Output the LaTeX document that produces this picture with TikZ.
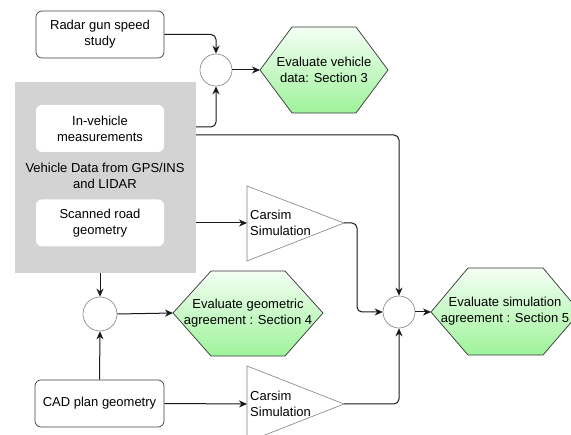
\documentclass[tikz,border=0pt]{standalone}
\usepackage{fontspec}
\setmainfont{Liberation Sans}
\usetikzlibrary{arrows.meta,shapes.geometric,calc}
\definecolor{hexbot}{HTML}{9EF39A}
\definecolor{hextop}{HTML}{F4FFF4}
\definecolor{graybg}{HTML}{D3D3D3}
\begin{document}
\begin{tikzpicture}[x=1pt,y=-1pt, font=\fontsize{13}{16}\selectfont,
 box/.style={draw=black!75, line width=0.7pt, rounded corners=6pt, fill=white, minimum width=128pt, minimum height=47pt, align=center, inner sep=0pt},
 inbox/.style={fill=white, rounded corners=6pt, minimum width=128pt, minimum height=47pt, align=center, inner sep=0pt},
 junc/.style={circle, draw=black!50, line width=0.6pt, fill=white, minimum size=32pt, inner sep=0pt},
 hexa/.style={draw=black!80, line width=0.7pt, top color=hextop, bottom color=hexbot},
 tri/.style={draw=black!50, line width=0.6pt, fill=white},
 conn/.style={line width=1pt, rounded corners=5pt, draw=black!90},
 arr/.style={conn, -{Stealth[length=8pt,width=7pt,inset=2.5pt]}},
 lbl/.style={align=center, inner sep=0pt}]
\useasboundingbox (0,0) rectangle (571,435);

% top
\node[box] (radar) at (100,34.5) {Radar gun speed\\study};
\node[junc] (c1) at (216,70) {};
\path[hexa] (260,70) coordinate (h1w) -- (292,27) -- (356,27) -- (388,70) -- (356,113) -- (292,113) -- cycle;
\node[lbl] (h1) at (324,70) {Evaluate vehicle\\data: Section 3};

% gray group
\node[fill=graybg, minimum width=181pt, minimum height=191pt, inner sep=0pt] (gray) at (105.5,177.5) {};
\node[inbox] (inveh) at (100,128.5) {In-vehicle\\measurements};
\node[lbl] (vdl) at (105,176) {Vehicle Data from GPS/INS\\and LIDAR};
\node[inbox] (scan) at (100,223) {Scanned road\\geometry};
\coordinate (gA) at (196,127);
\coordinate (gB) at (196,135);
\coordinate (gC) at (196,223);
\coordinate (gD) at (100,273);

% carsim 1
\path[tri] (247,186) -- (344,223) coordinate (t1tip) -- (247,261) -- cycle;
\coordinate (t1w) at (247,223);
\node[lbl, anchor=west, align=left] (t1) at (250,223) {Carsim\\Simulation};
\coordinate (k1) at (357,223);

% geometric
\node[junc, minimum size=34pt] (c2) at (100,314) {};
\path[hexa] (173,313) coordinate (h2w) -- (211,271) -- (285,271) -- (323,313) -- (285,356) -- (211,356) -- cycle;
\node[lbl] (h2) at (248,313) {Evaluate geometric\\agreement : Section 4};

% CAD
\node[box, minimum width=129pt] (cad) at (99.5,403.5) {CAD plan geometry};
\path[tri] (247,366) -- (344,404) coordinate (t2tip) -- (247,442) -- cycle;
\coordinate (t2w) at (247,404);
\node[lbl, anchor=west, align=left] (t2) at (250,404) {Carsim\\Simulation};

% simulation
\node[junc] (c3) at (399,312) {};
\path[hexa] (431,312) coordinate (h3w) -- (468,268) -- (543,268) -- (580,312) -- (543,355) -- (468,355) -- cycle;
\node[lbl] (h3) at (505,311) {Evaluate simulation\\agreement : Section 5};

% connectors
\draw[arr] (radar.east) -| (c1.north);
\draw[arr] (gA) -| (c1.south);
\draw[arr] (c1.east) -- (h1w);
\draw[arr] (gB) -| (c3.north);
\draw[arr] (gC) -- (t1w);
\draw[arr] (t1tip) -- (k1) |- (c3.west);
\draw[arr] (gD) -- (c2.north);
\draw[arr] (c2.east) -- (h2w);
\draw[arr] (cad.north) -- (c2.south);
\draw[arr] (cad.east) -- (t2w);
\draw[arr] (t2tip) -| (c3.south);
\draw[arr] (c3.east) -- (h3w);
\end{tikzpicture}
\end{document}
